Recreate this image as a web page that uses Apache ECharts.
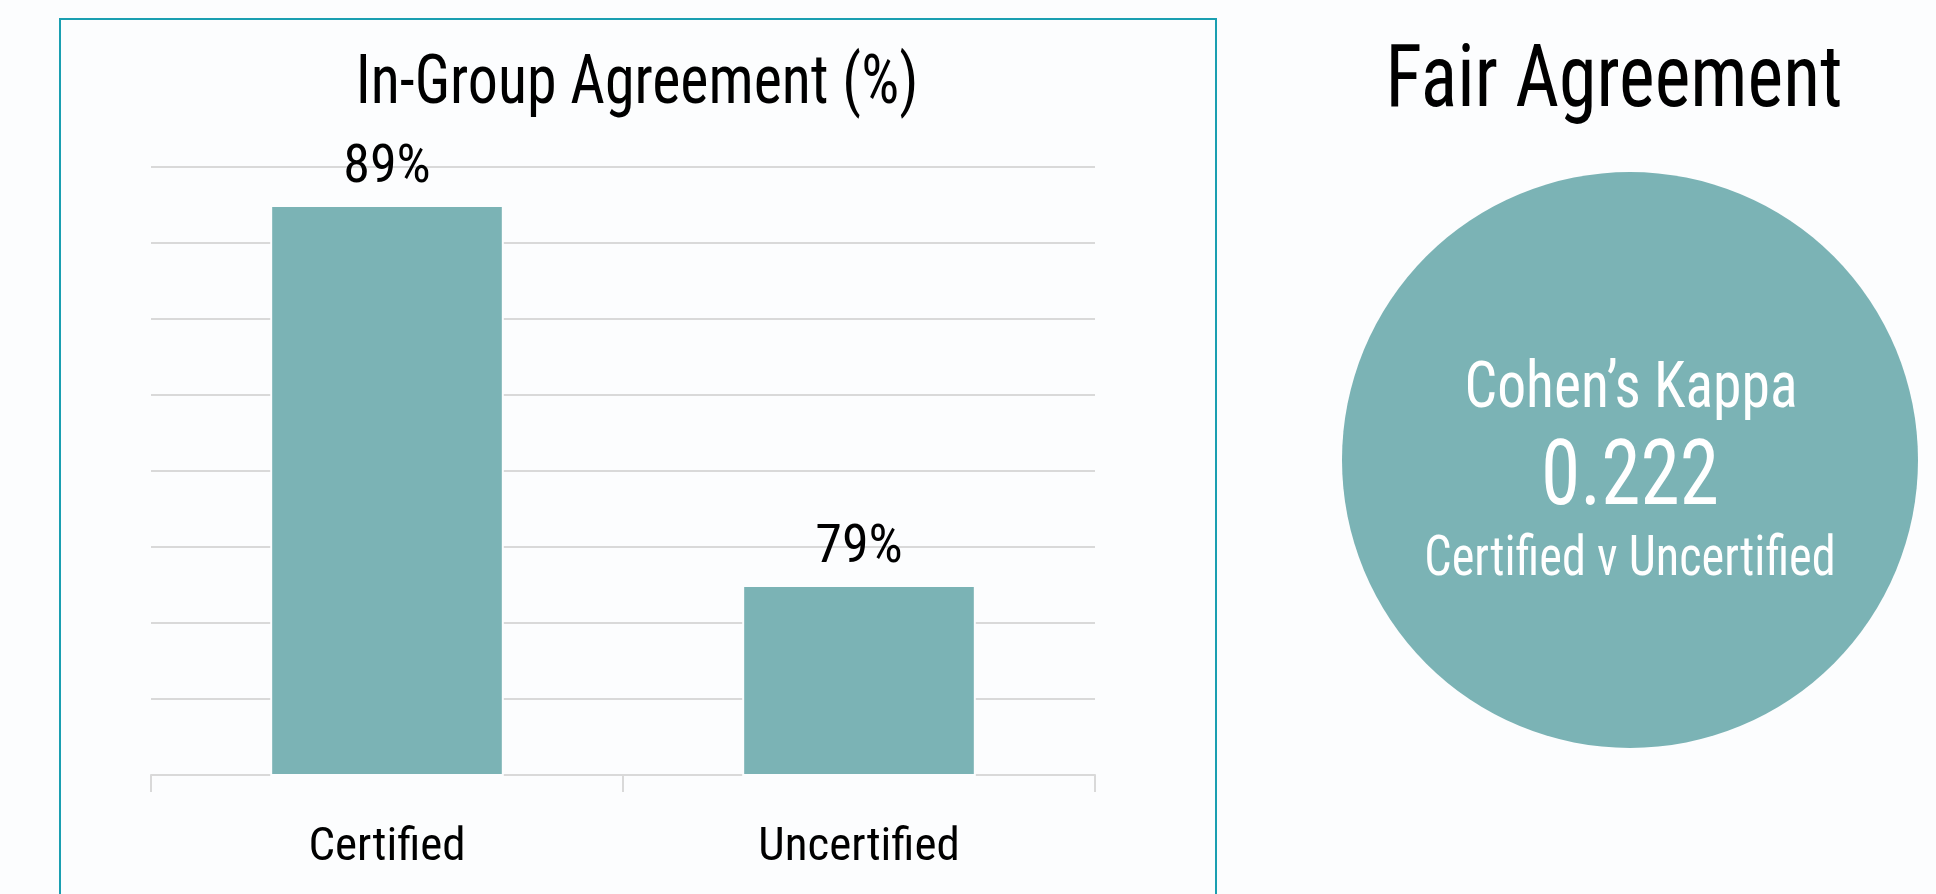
<!DOCTYPE html>
<html>
<head>
<meta charset="utf-8">
<script src="https://cdn.jsdelivr.net/npm/echarts@6/dist/echarts.min.js"></script>
<style>
  html, body { margin: 0; padding: 0; background: #fcfdfe; }
  #chart { width: 1936px; height: 894px; }
</style>
</head>
<body>
<div id="chart"></div>
<script>
  var FONT = "'Liberation Sans Narrow', 'Arial Narrow', 'Roboto Condensed', sans-serif";
  var STRETCH = 1.14; // reference type is taller than the condensed font we have

  // data
  var categories = ['Certified', 'Uncertified'];
  var agreementPct = [89, 79];
  var yTicks = { min: 74, max: 90, interval: 2 };

  var chartTitle = 'In-Group Agreement (%)';
  var kappaTitle = 'Fair Agreement';
  var kappaName = 'Cohen’s Kappa';
  var kappaValue = 0.222;
  var kappaGroups = 'Certified v Uncertified';

  var chart = echarts.init(document.getElementById('chart'));

  function label(text, x, y, size, color) {
    return {
      type: 'text',
      x: x,
      y: y,
      scaleY: STRETCH,
      silent: true,
      z: 100,
      style: {
        text: text,
        fontFamily: FONT,
        fontSize: size,
        fill: color,
        align: 'center',
        verticalAlign: 'middle'
      }
    };
  }

  chart.setOption({
    backgroundColor: '#fcfdfe',
    animation: false,
    graphic: [
      {
        type: 'rect',
        shape: { x: 60, y: 19, width: 1156, height: 900 },
        style: { fill: 'none', stroke: '#1a9fb1', lineWidth: 2 },
        silent: true
      },
      label(chartTitle, 637, 86, 60, '#000'),
      label(kappaTitle, 1614, 84, 76, '#000'),
      label(kappaName, 1631, 391, 57.6, '#fff'),
      label(kappaValue.toFixed(3), 1630, 481, 79.5, '#fff'),
      label(kappaGroups, 1630, 561, 48.3, '#fff')
    ],
    grid: { left: 151, right: 841, top: 167, bottom: 119 },
    xAxis: {
      type: 'category',
      data: categories,
      axisLine: { lineStyle: { color: '#d9d9d9', width: 2 } },
      axisTick: { show: true, length: 17, lineStyle: { color: '#d9d9d9', width: 2 } },
      axisLabel: { margin: 50, fontFamily: FONT, fontSize: 47, color: '#000' }
    },
    yAxis: {
      type: 'value',
      min: yTicks.min,
      max: yTicks.max,
      interval: yTicks.interval,
      axisLabel: { show: false },
      axisLine: { show: false },
      axisTick: { show: false },
      splitLine: { lineStyle: { color: '#d9d9d9', width: 2 } }
    },
    series: [
      {
        type: 'bar',
        data: agreementPct,
        barWidth: '49.5%',
        itemStyle: { color: '#7bb3b5', borderColor: '#fcfdfe', borderWidth: 2 },
        label: {
          show: true,
          position: 'top',
          distance: 10,
          formatter: '{c}%',
          fontFamily: FONT,
          fontSize: 54,
          color: '#000'
        }
      },
      {
        type: 'pie',
        center: [1630, 460],
        radius: 288,
        silent: true,
        label: { show: false },
        labelLine: { show: false },
        itemStyle: { color: '#7bb3b5' },
        data: [{ value: 1, name: kappaName }]
      }
    ]
  });
</script>
</body>
</html>
